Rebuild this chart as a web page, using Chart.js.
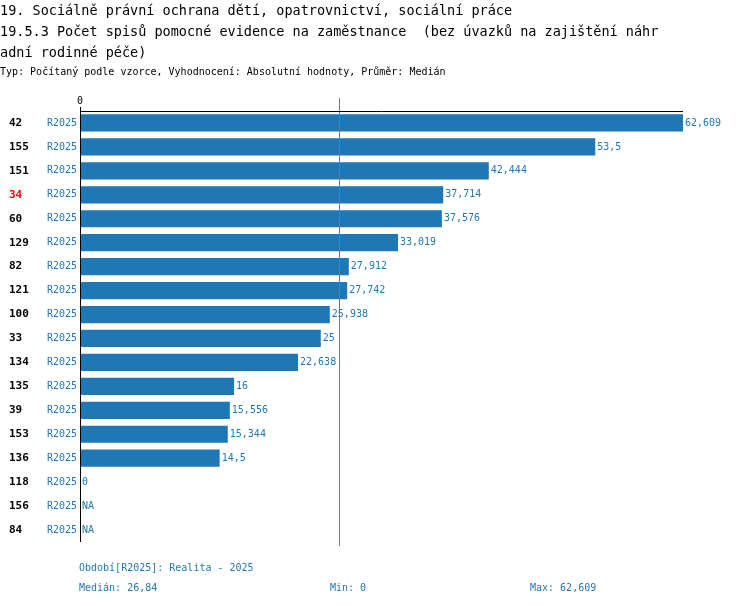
<!DOCTYPE html>
<html><head><meta charset="utf-8">
<script src="https://cdn.jsdelivr.net/npm/chart.js@4"></script>
<style>
body{margin:0;background:#fff;font-family:"DejaVu Sans Mono",monospace}
#wrap{position:relative;width:750px;height:606px}
canvas{position:absolute;left:0;top:0}
.t{position:absolute;left:0;white-space:pre;color:#000}
.f{position:absolute;font-size:10px;color:#1f77b4}
</style></head><body>
<div id="wrap">
<canvas id="chart" width="750" height="606"></canvas>
<div class="t" style="top:0;font-size:13.5px;line-height:21px">19. Sociálně právní ochrana dětí, opatrovnictví, sociální práce
19.5.3 Počet spisů pomocné evidence na zaměstnance  (bez úvazků na zajištění náhr
adní rodinné péče)</div>
<div class="t" style="top:66px;font-size:10px">Typ: Počítaný podle vzorce, Vyhodnocení: Absolutní hodnoty, Průměr: Medián</div>
<div class="f" style="left:79px;top:562px">Období[R2025]: Realita - 2025</div>
<div class="f" style="left:79px;top:582px">Medián: 26,84</div>
<div class="f" style="left:330px;top:582px">Min: 0</div>
<div class="f" style="left:530px;top:582px">Max: 62,609</div>
</div>
<script>
const ids = ['42','155','151','34','60','129','82','121','100','33','134','135','39','153','136','118','156','84'];
const periods = ids.map(() => 'R2025');
const values = [62.609,53.5,42.444,37.714,37.576,33.019,27.912,27.742,25.938,25,22.638,16,15.556,15.344,14.5,0,null,null];
const highlight = '34';
const median = 26.84;
const fmt = v => v === null ? 'NA' : String(v).replace('.', ',');

const deco = {
  id: 'deco',
  afterDatasetsDraw(c) {
    const ctx = c.ctx, x = c.scales.x, y = c.scales.y, a = c.chartArea;
    ctx.save();
    ctx.font = '10px "DejaVu Sans Mono"';
    ctx.textBaseline = 'middle';
    ids.forEach((id, i) => {
      const py = y.getPixelForValue(i);
      ctx.font = 'bold 11px "DejaVu Sans Mono"';
      ctx.fillStyle = id === highlight ? '#ff0000' : '#000';
      ctx.textAlign = 'left';
      ctx.fillText(id, 9, py);
      ctx.font = '10px "DejaVu Sans Mono"';
      ctx.fillStyle = '#1f77b4';
      ctx.fillText(periods[i], 47, py);
      const v = values[i];
      ctx.fillText(fmt(v), x.getPixelForValue(v || 0) + 2, py);
    });
    // median line
    const mx = Math.round(x.getPixelForValue(median)) + 0.5;
    ctx.strokeStyle = '#777'; ctx.lineWidth = 1;
    ctx.beginPath(); ctx.moveTo(mx, a.top - 13); ctx.lineTo(mx, a.bottom + 4); ctx.stroke();
    // axes
    ctx.strokeStyle = '#000';
    ctx.beginPath();
    ctx.moveTo(a.left, a.top + 0.5); ctx.lineTo(a.right, a.top + 0.5);
    ctx.moveTo(a.left + 0.5, a.top); ctx.lineTo(a.left + 0.5, a.bottom);
    ctx.moveTo(a.left + 0.5, a.top); ctx.lineTo(a.left + 0.5, a.top - 4);
    ctx.stroke();
    ctx.fillStyle = '#000'; ctx.textAlign = 'center';
    ctx.fillText('0', a.left, a.top - 10);
    ctx.restore();
  }
};

new Chart(document.getElementById('chart'), {
  type: 'bar',
  data: { labels: ids, datasets: [{ data: values, backgroundColor: '#1f77b4', barPercentage: 0.72, categoryPercentage: 1 }] },
  options: {
    indexAxis: 'y', responsive: false, animation: false,
    layout: { padding: { left: 80, right: 67, top: 111, bottom: 64 } },
    plugins: { legend: { display: false }, tooltip: { enabled: false } },
    scales: {
      x: { display: false, min: 0, max: 62.609 },
      y: { display: false }
    }
  },
  plugins: [deco]
});
</script>
</body></html>
